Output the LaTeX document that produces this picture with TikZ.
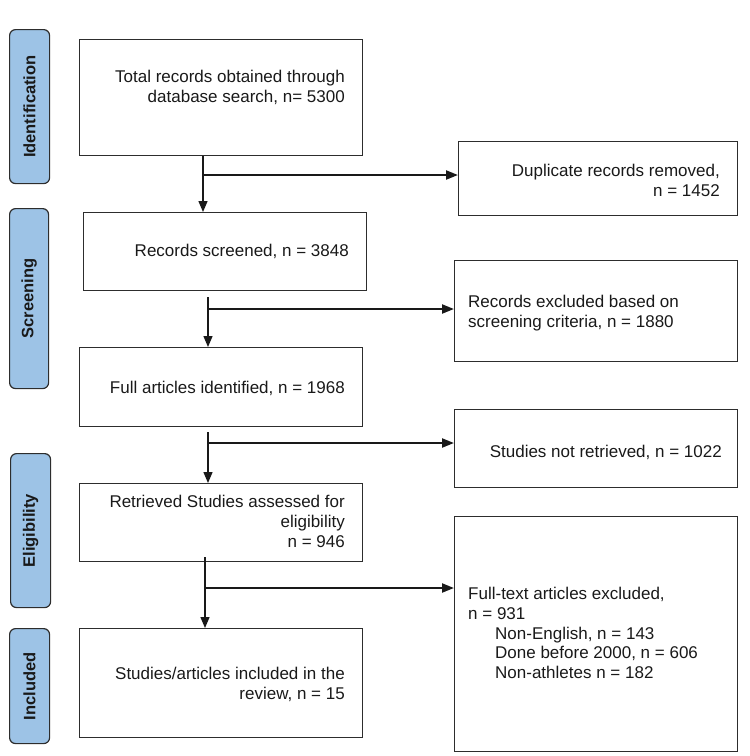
\documentclass[tikz,border=0pt]{standalone}
\usepackage{fontspec}
\setmainfont{Liberation Sans}
\usetikzlibrary{arrows.meta}
\definecolor{lblue}{RGB}{157,195,230}
\definecolor{edge}{RGB}{45,45,45}
\definecolor{ink}{RGB}{25,25,25}
\begin{document}
\begin{tikzpicture}[x=1pt,y=-1pt,
  box/.style={draw=edge, line width=1.2pt, anchor=north west, inner sep=0pt},
  stage/.style={draw=edge, fill=lblue, line width=1.2pt, rounded corners=6pt, anchor=north west, inner sep=0pt},
  stagetxt/.style={rotate=90, inner sep=0pt, text=ink, font=\fontsize{16.5}{20}\selectfont\bfseries},
  txt/.style={font=\fontsize{17}{19.8}\selectfont, inner sep=0pt, text=ink},
  rtxt/.style={txt, align=right, anchor=north east},
  ltxt/.style={txt, align=left, anchor=north west},
  vline/.style={draw=ink, line width=1.4pt, -{Triangle[length=11pt,width=9pt]}},
  harrow/.style={draw=ink, line width=2.2pt, -{Triangle[length=12pt,width=9pt]}}]
\useasboundingbox (0,0) rectangle (750,756);

% stage labels
\node[stage, minimum width=40pt, minimum height=154pt] (sid) at (9,29) {};
\node[stagetxt] (tid) at (sid.center) {Identification};
\node[stage, minimum width=39pt, minimum height=180pt] (ssc) at (9,208) {};
\node[stagetxt] (tsc) at (ssc.center) {Screening};
\node[stage, minimum width=40pt, minimum height=154pt] (sel) at (10,453) {};
\node[stagetxt] (tel) at (sel.center) {Eligibility};
\node[stage, minimum width=40pt, minimum height=115pt] (sin) at (9,628) {};
\node[stagetxt] (tin) at (sin.center) {Included};

% main column
\node[box, minimum width=283pt, minimum height=116pt] (b1) at (79,39) {};
\node[rtxt] (t1) at (345,70) {Total records obtained through\\database search, n= 5300};
\node[box, minimum width=283pt, minimum height=78pt] (b2) at (83,212) {};
\node[rtxt] (t2) at (349,244) {Records screened, n = 3848};
\node[box, minimum width=283pt, minimum height=79pt] (b3) at (79,347) {};
\node[rtxt] (t3) at (345,381) {Full articles identified, n = 1968};
\node[box, minimum width=283pt, minimum height=78pt] (b4) at (79,483) {};
\node[rtxt] (t4) at (345,495) {Retrieved Studies assessed for\\eligibility\\n = 946};
\node[box, minimum width=283pt, minimum height=109pt] (b5) at (79,628) {};
\node[rtxt] (t5) at (345,667) {Studies/articles included in the\\review, n = 15};

% right column
\node[box, minimum width=279pt, minimum height=74pt] (d1) at (458,141) {};
\node[rtxt] (u1) at (720,164) {Duplicate records removed,\\n = 1452};
\node[box, minimum width=283pt, minimum height=101pt] (d2) at (454,260) {};
\node[ltxt] (u2) at (468,295) {Records excluded based on\\screening criteria, n = 1880};
\node[box, minimum width=283pt, minimum height=78pt] (d3) at (454,409) {};
\node[rtxt] (u3) at (722,445) {Studies not retrieved, n = 1022};
\node[box, minimum width=283pt, minimum height=235pt] (d4) at (454,516) {};
\node[ltxt] (u4) at (468,587) {Full-text articles excluded,\\n = 931\\\hspace*{27pt}Non-English, n = 143\\\hspace*{27pt}Done before 2000, n = 606\\\hspace*{27pt}Non-athletes n = 182};

% connectors
\coordinate (j1) at (203,175);
\draw[vline] (j1 |- b1.south) -- (j1 |- b2.north);
\draw[harrow] (j1) -- (j1 -| d1.west);

\coordinate (s2) at (208,297);
\coordinate (j2) at (208,309);
\draw[vline] (s2) -- (s2 |- b3.north);
\draw[harrow] (j2) -- (j2 -| d2.west);

\coordinate (s3) at (208,432);
\coordinate (j3) at (208,443);
\draw[vline] (s3) -- (s3 |- b4.north);
\draw[harrow] (j3) -- (j3 -| d3.west);

\coordinate (s4) at (205,557);
\coordinate (j4) at (205,588);
\draw[vline] (s4) -- (s4 |- b5.north);
\draw[harrow] (j4) -- (j4 -| d4.west);
\end{tikzpicture}
\end{document}
